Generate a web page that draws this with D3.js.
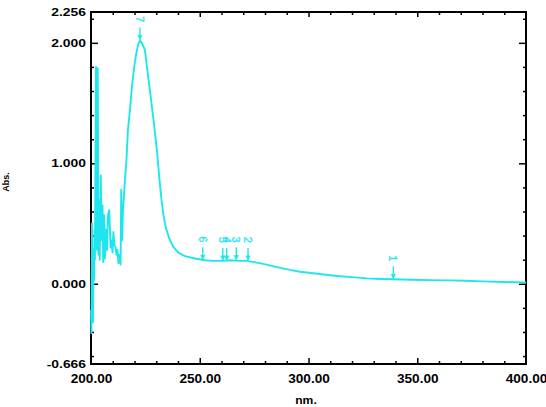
<!DOCTYPE html>
<html><head><meta charset="utf-8">
<script src="https://cdn.jsdelivr.net/npm/d3@7/dist/d3.min.js"></script>
<style>body{margin:0;background:#fff}svg{display:block}</style>
</head><body><svg id="c" width="546" height="407"></svg>
<script>
const wavelength=[200.0,200.2,200.45,200.7,200.9,201.15,201.4,201.6,201.8,202.3,202.5,202.8,203.1,203.45,203.7,204.0,204.5,204.9,205.3,205.6,206.0,206.4,206.9,207.4,207.8,208.4,209.0,209.4,209.9,210.3,210.8,211.3,211.7,212.2,212.6,213.1,213.6,213.9,214.3,214.7,215.2,215.6,216.3,217.0,217.9,218.9,219.8,220.7,221.6,222.5,223.4,224.8,226.2,227.6,229.0,230.3,231.5,232.4,233.3,234.5,235.9,237.7,240.0,243.2,247.8,252.4,256,260.7,264,268,271.6,275,279.2,285,291.5,296,302.2,308,313.0,320,326.8,333,339.0,347,355.9,365,372,380,390,400];
const absorbance=[-0.22,-0.41,0.50,-0.05,-0.32,0.28,0.03,0.45,0.20,1.80,0.36,0.28,1.79,0.24,0.70,0.20,0.90,0.36,0.65,0.18,0.57,0.21,0.45,0.28,0.57,0.61,0.30,0.36,0.26,0.43,0.32,0.30,0.24,0.28,0.17,0.24,0.16,0.78,0.36,0.61,0.74,0.86,1.03,1.28,1.44,1.65,1.79,1.90,1.98,2.02,2.00,1.94,1.73,1.53,1.32,1.11,0.86,0.70,0.57,0.46,0.38,0.31,0.26,0.23,0.21,0.195,0.19,0.19,0.195,0.19,0.19,0.18,0.165,0.14,0.115,0.10,0.087,0.075,0.065,0.055,0.045,0.04,0.037,0.033,0.03,0.028,0.025,0.02,0.015,0.01];
const peakNm=[222.5,251.4,260.6,262.4,266.8,272.2,339.0];
const peakAbs=[2.02,0.195,0.19,0.19,0.193,0.19,0.037];
const peakLabels=["7","6","5","4","3","2","1"];
const xLabelTicks=[200,250,300,350,400];
const xMajorTicks=[250,300,350];
const xMinorTicks=[210,220,230,240,260,270,280,290,310,320,330,340,360,370,380,390];
const yLabelTicks=[-0.666,0,1,2,2.256];
const yMajorTicks=[0,1,2];
const yMinorTicks=[-0.6,-0.4,-0.2,0.2,0.4,0.6,0.8,1.2,1.4,1.6,1.8,2.2];
const xTitle="nm.", yTitle="Abs.";

const cyan="#1fe6ee";
const L=91,R=526,T=12,B=364;
const svg=d3.select("#c");
const x=d3.scaleLinear().domain([200,400]).range([L,R]);
const y=d3.scaleLinear().domain([-0.666,2.256]).range([B,T]);

function tickAxis(axis,tr){
  const g=svg.append("g").attr("transform",tr).call(axis);
  g.select(".domain").remove();
  g.selectAll("line").attr("stroke","#000").attr("stroke-width",1.5);
  return g;
}
tickAxis(d3.axisBottom(x).tickValues(xMinorTicks).tickSize(-3).tickFormat(""),`translate(0,${B})`);
tickAxis(d3.axisBottom(x).tickValues(xMajorTicks).tickSize(-6).tickFormat(""),`translate(0,${B})`);
tickAxis(d3.axisTop(x).tickValues(xMinorTicks).tickSize(-3).tickFormat(""),`translate(0,${T})`);
tickAxis(d3.axisTop(x).tickValues(xMajorTicks).tickSize(-5).tickFormat(""),`translate(0,${T})`);
tickAxis(d3.axisLeft(y).tickValues(yMinorTicks).tickSize(-3).tickFormat(""),`translate(${L},0)`);
tickAxis(d3.axisLeft(y).tickValues(yMajorTicks).tickSize(-7).tickFormat(""),`translate(${L},0)`);
tickAxis(d3.axisRight(y).tickValues(yMinorTicks).tickSize(-3).tickFormat(""),`translate(${R},0)`);
tickAxis(d3.axisRight(y).tickValues(yMajorTicks).tickSize(-7).tickFormat(""),`translate(${R},0)`);

const gx=svg.append("g").attr("transform",`translate(0,${B})`)
  .call(d3.axisBottom(x).tickValues(xLabelTicks).tickSize(0).tickPadding(10.5).tickFormat(d=>d.toFixed(2)));
gx.select(".domain").remove();
gx.selectAll("text").attr("font-family","Liberation Sans, Arial, sans-serif").attr("font-size",12.5).attr("font-weight","bold").attr("fill","#000");
const gy=svg.append("g").attr("transform",`translate(${L},0)`)
  .call(d3.axisLeft(y).tickValues(yLabelTicks).tickSize(0).tickPadding(5).tickFormat(d=>d.toFixed(3)));
gy.select(".domain").remove();
gy.selectAll("text").attr("font-family","Liberation Sans, Arial, sans-serif").attr("font-size",10.5).attr("font-weight","bold").attr("fill","#000");

function stretch(sel,f){
  sel.each(function(){const w=this.getComputedTextLength();d3.select(this).attr("textLength",w*f).attr("lengthAdjust","spacingAndGlyphs");});
}
stretch(gx.selectAll("text"),1.09);
stretch(gy.selectAll("text"),1.32);

svg.append("rect").attr("x",L).attr("y",T).attr("width",R-L).attr("height",B-T)
  .attr("fill","none").attr("stroke","#000").attr("stroke-width",2);

const line=d3.line().x((d,i)=>x(wavelength[i])).y((d,i)=>y(absorbance[i]));
svg.append("path").datum(absorbance).attr("d",line).attr("fill","none")
  .attr("stroke",cyan).attr("stroke-width",1.9).attr("stroke-linejoin","round");

const pk=svg.append("g").selectAll("g").data(peakNm).join("g")
  .attr("transform",(d,i)=>`translate(${x(d)},${y(peakAbs[i])})`);
pk.append("line").attr("x1",0).attr("x2",0).attr("y1",-13).attr("y2",-1).attr("stroke",cyan).attr("stroke-width",1.4);
pk.append("path").attr("d","M-2,-5L2,-5L0,-1Z").attr("fill",cyan).attr("stroke",cyan).attr("stroke-width",0.8);
pk.append("text").attr("transform","translate(0,-21) rotate(90)").attr("text-anchor","middle").attr("dy","0.35em")
  .attr("font-family","Liberation Sans, Arial, sans-serif").attr("font-size",11).attr("fill",cyan)
  .attr("stroke",cyan).attr("stroke-width",0.3)
  .text((d,i)=>peakLabels[i]);

const tx=svg.append("text").attr("x",306).attr("y",404).attr("text-anchor","middle")
  .attr("font-family","Liberation Sans, Arial, sans-serif").attr("font-size",11).attr("font-weight","bold").text(xTitle);
stretch(tx,1.1);
svg.append("text").attr("transform","translate(9,182) rotate(-90)").attr("text-anchor","middle")
  .attr("font-family","Liberation Sans, Arial, sans-serif").attr("font-size",9).attr("font-weight","bold").text(yTitle);
</script></body></html>
